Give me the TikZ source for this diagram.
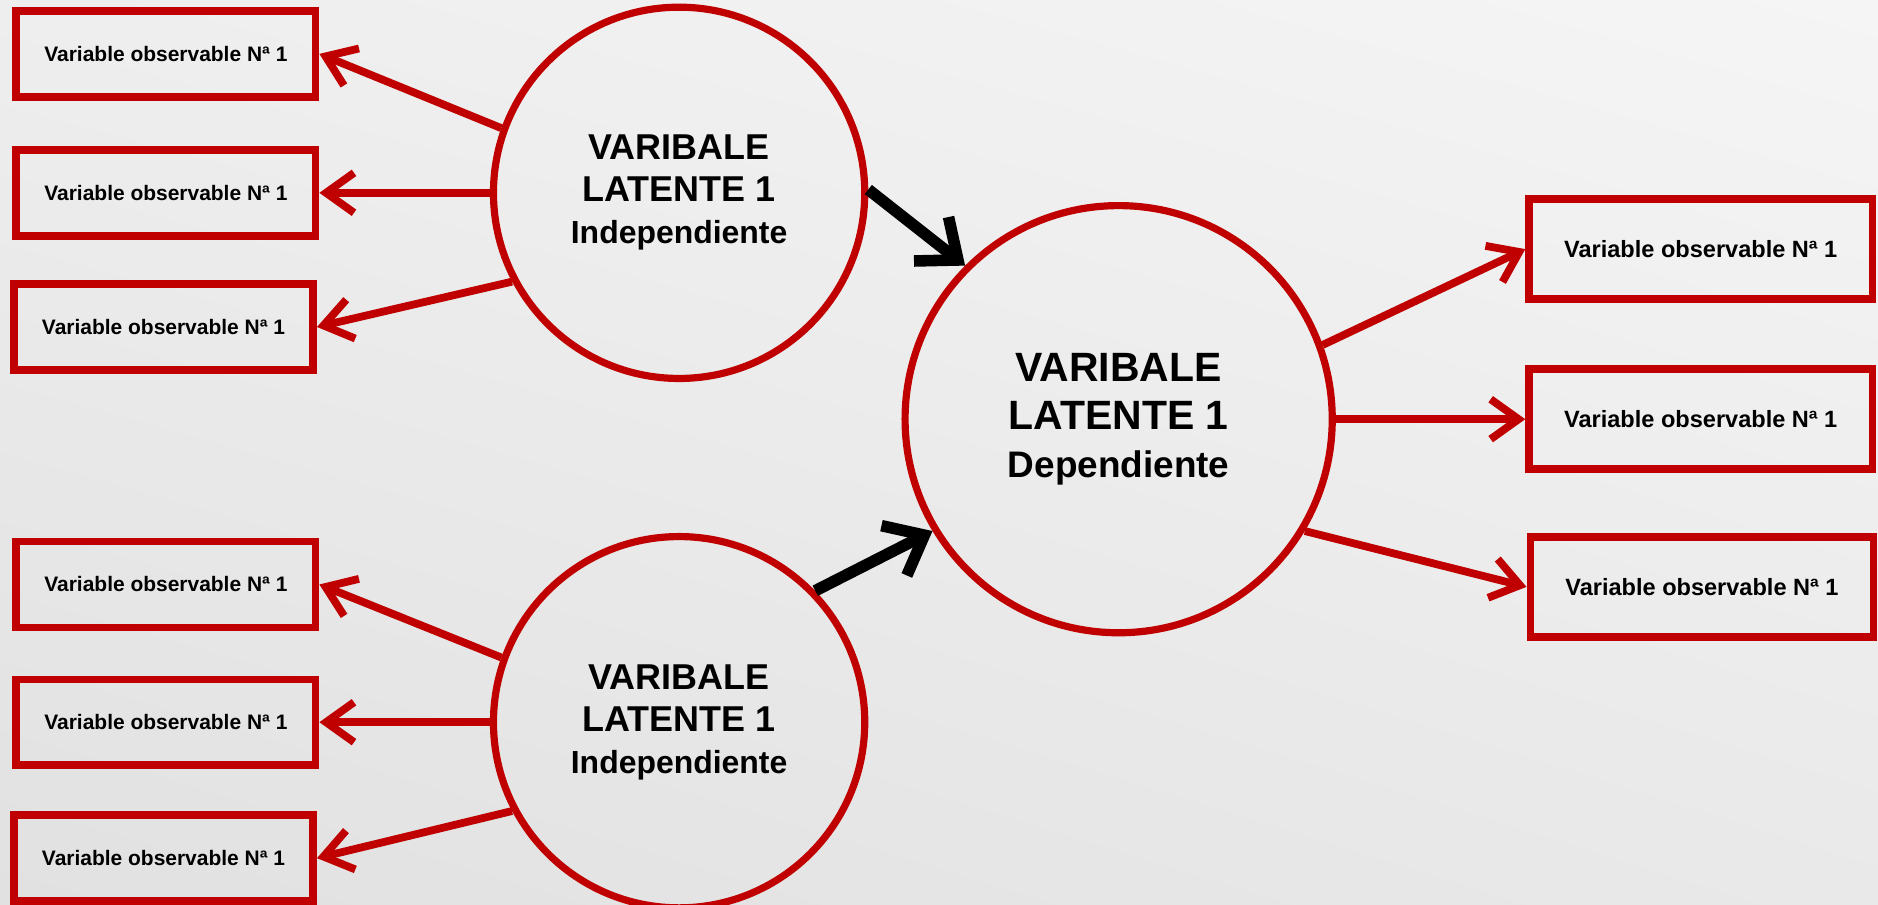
\documentclass[tikz,border=0pt]{standalone}
\usepackage{fontspec}
\setmainfont{Liberation Sans}
\usetikzlibrary{arrows.meta, shadings}
\definecolor{RED}{HTML}{C00000}
\definecolor{BLACK}{HTML}{000000}
\definecolor{BGA}{HTML}{EEEEEE}
\definecolor{BGB}{HTML}{F5F5F5}
\definecolor{BGC}{HTML}{E1E1E1}
\definecolor{BGD}{HTML}{E9E9E9}

\begin{document}
\begin{tikzpicture}[x=0.6pt, y=0.6pt,
    obsbox/.style={draw=RED, line width=3.8pt, minimum width=150pt, minimum height=43pt, inner sep=0pt, font=\bfseries\fontsize{10.5}{12}\selectfont},
    obsboxR/.style={obsbox, minimum width=172pt, minimum height=50pt, font=\bfseries\fontsize{11.8}{13}\selectfont},
    latent/.style={draw=RED, circle, line width=3.6pt, minimum size=186pt, inner sep=0pt, align=center, font=\bfseries\fontsize{18}{21}\selectfont},
    latentdep/.style={latent, minimum size=214pt, font=\bfseries\fontsize{20.5}{24}\selectfont},
    redarrow/.style={RED, line width=3.9pt, -{Straight Barb[length=14pt, width=20pt]}},
    blackarrow/.style={BLACK, line width=5.8pt, -{Straight Barb[length=17pt, width=28pt]}}]
    \shade[upper left=BGA, upper right=BGB, lower left=BGC, lower right=BGD] (0,0) rectangle (1568,755);
    \useasboundingbox (0,0) rectangle (1568,755);
    \node[latent] (ind1) at (567,594) {VARIBALE\\LATENTE 1\\{\fontsize{16}{20}\selectfont Independiente}};
    \node[latent] (ind2) at (567,152) {VARIBALE\\LATENTE 1\\{\fontsize{16}{20}\selectfont Independiente}};
    \node[latentdep] (dep) at (934,405) {VARIBALE\\LATENTE 1\\{\fontsize{18.5}{23}\selectfont Dependiente}};
    \node[obsbox] (obsL1) at (138.5,710) {Variable observable Nª 1};
    \node[obsbox] (obsL2) at (138.5,594) {Variable observable Nª 1};
    \node[obsbox] (obsL3) at (136.5,482) {Variable observable Nª 1};
    \node[obsbox] (obsL4) at (138.5,267) {Variable observable Nª 1};
    \node[obsbox] (obsL5) at (138.5,152) {Variable observable Nª 1};
    \node[obsbox] (obsL6) at (136.5,38.5) {Variable observable Nª 1};
    \node[obsboxR] (obsR1) at (1420,547) {Variable observable Nª 1};
    \node[obsboxR] (obsR2) at (1420,405) {Variable observable Nª 1};
    \node[obsboxR] (obsR3) at (1421,265) {Variable observable Nª 1};
    \draw[redarrow] (ind1.160) -- (obsL1.east);
    \draw[redarrow] (ind1.180) -- (obsL2.east);
    \draw[redarrow] (ind1.208) -- (obsL3.east);
    \draw[redarrow] (ind2.160) -- (obsL4.east);
    \draw[redarrow] (ind2.180) -- (obsL5.east);
    \draw[redarrow] (ind2.208) -- (obsL6.east);
    \draw[redarrow] (dep.20) -- (obsR1.west);
    \draw[redarrow] (dep.0) -- (obsR2.west);
    \draw[redarrow] (dep.-31) -- (obsR3.west);
    \draw[blackarrow] (ind1.1) -- (dep.135);
    \draw[blackarrow] (ind2.44) -- (dep.211);
\end{tikzpicture}
\end{document}
